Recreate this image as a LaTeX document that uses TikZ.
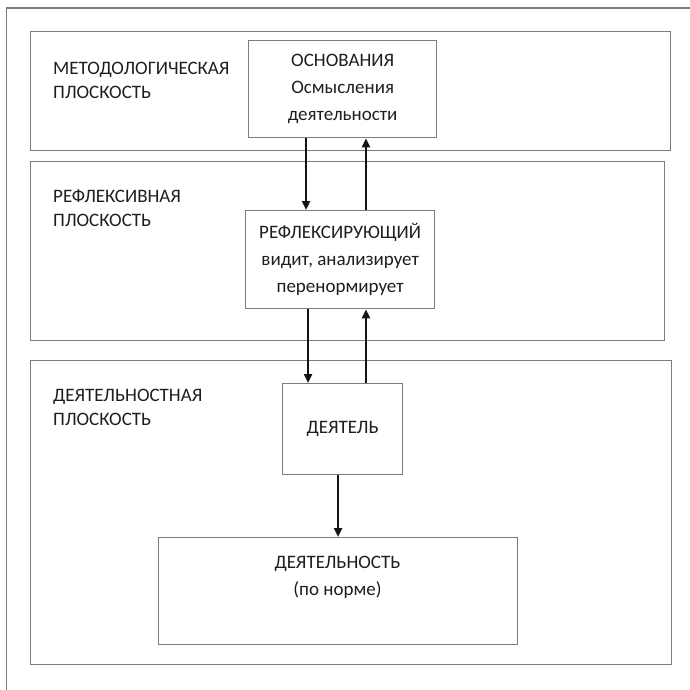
\documentclass[tikz,border=0pt]{standalone}
\usepackage{fontspec}
\setmainfont{Carlito}
\usetikzlibrary{arrows.meta}
\definecolor{framegray}{RGB}{125,125,125}
\definecolor{ink}{RGB}{30,30,30}
\begin{document}
\begin{tikzpicture}[x=1pt,y=-1pt,
  panel/.style={draw=framegray, line width=1.3pt, rectangle, inner sep=0pt, anchor=north west},
  box/.style={draw=framegray, line width=1.3pt, fill=white, rectangle, inner sep=0pt,
    anchor=north west, text=ink, font=\fontsize{19}{27}\selectfont, align=center},
  txt/.style={text=ink, font=\fontsize{19}{27}\selectfont, align=center, inner sep=0pt},
  lbl/.style={anchor=west, text=ink, font=\fontsize{19}{24}\selectfont, align=left, inner sep=0pt},
  arr/.style={line width=2.6pt, draw=black!92, -{Triangle[length=9pt,width=8pt]}},
]
\useasboundingbox (0,0) rectangle (690,690);

% outer frame, open to the right and bottom
\coordinate (fbl) at (6.5,690);
\coordinate (ftl) at (6.5,8);
\coordinate (ftr) at (690,8);
\draw[framegray, line width=1.3pt] (fbl) -- (ftl) -- (ftr);

% three planes
\node[panel, minimum width=640pt, minimum height=119pt] (pm) at (30,31) {};
\node[panel, minimum width=634pt, minimum height=179pt] (pr) at (30,161) {};
\node[panel, minimum width=641pt, minimum height=304pt] (pa) at (30,360) {};

\node[lbl] (lm) at (53,80) {МЕТОДОЛОГИЧЕСКАЯ\\ПЛОСКОСТЬ};
\node[lbl] (lr) at (53,208) {РЕФЛЕКСИВНАЯ\\ПЛОСКОСТЬ};
\node[lbl] (la) at (53,407) {ДЕЯТЕЛЬНОСТНАЯ\\ПЛОСКОСТЬ};

% boxes
\node[box, minimum width=188pt, minimum height=97pt] (osn) at (248,40)
  {ОСНОВАНИЯ\\Осмысления\\деятельности};
\node[box, minimum width=189pt, minimum height=98pt] (refl) at (245,210)
  {РЕФЛЕКСИРУЮЩИЙ\\видит, анализирует\\перенормирует};
\node[box, minimum width=120pt, minimum height=91pt] (actor) at (282,383)
  {ДЕЯТЕЛЬ};
\node[box, minimum width=359pt, minimum height=107pt] (act) at (158,537) {};
\node[txt] (acttext) at (337.5,577) {ДЕЯТЕЛЬНОСТЬ\\(по норме)};

% connector columns
\coordinate (c1) at (306,0);
\coordinate (c2) at (366,0);
\coordinate (c3) at (308,0);
\coordinate (c4) at (338,0);

\draw[arr] (osn.south -| c1) -- (refl.north -| c1);
\draw[arr] (refl.north -| c2) -- (osn.south -| c2);
\draw[arr] (refl.south -| c3) -- (actor.north -| c3);
\draw[arr] (actor.north -| c2) -- (refl.south -| c2);
\draw[arr] (actor.south -| c4) -- (act.north -| c4);
\end{tikzpicture}
\end{document}
